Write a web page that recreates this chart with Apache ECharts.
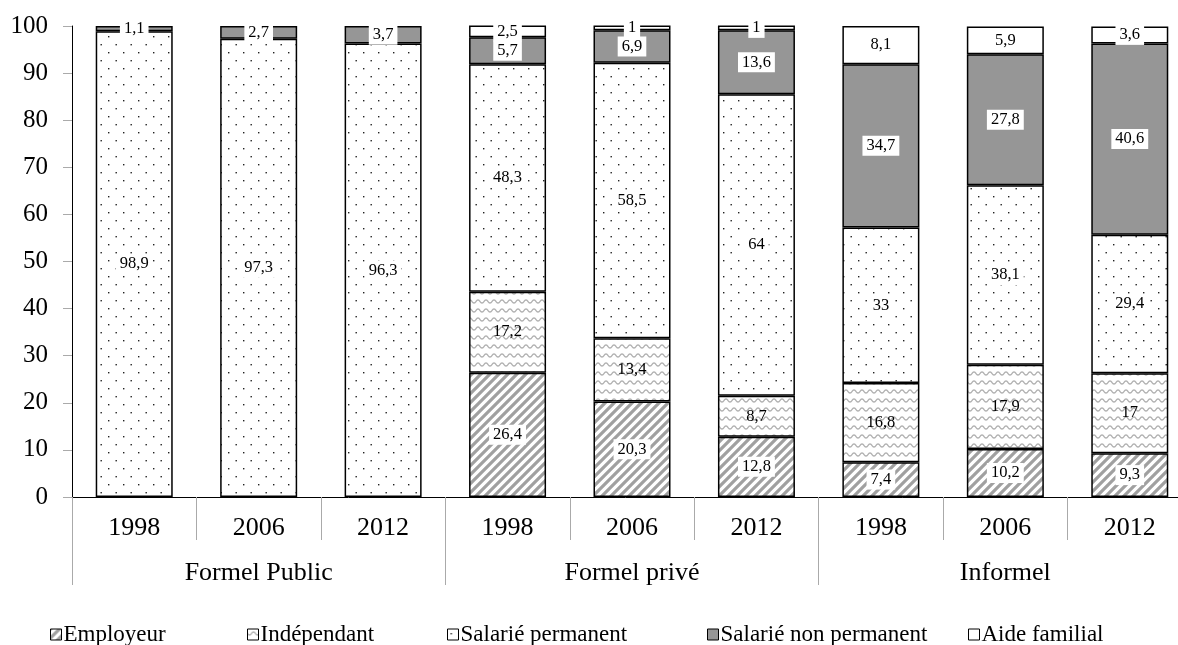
<!DOCTYPE html>
<html>
<head>
<meta charset="utf-8">
<script src="https://cdn.jsdelivr.net/npm/echarts@6/dist/echarts.min.js"></script>
<style>html,body{margin:0;padding:0;background:#fff;}#c{width:1178px;height:645px;}</style>
</head>
<body>
<div id="c"></div>
<script>
const years = ['1998','2006','2012','1998','2006','2012','1998','2006','2012'];
const groups = ['Formel Public','Formel privé','Informel'];
const seriesNames = ['Employeur','Indépendant','Salarié permanent','Salarié non permanent','Aide familial'];
const employeur = [null,null,null,26.4,20.3,12.8,7.4,10.2,9.3];
const independant = [null,null,null,17.2,13.4,8.7,16.8,17.9,17];
const salariePermanent = [98.9,97.3,96.3,48.3,58.5,64,33,38.1,29.4];
const salarieNonPermanent = [1.1,2.7,3.7,5.7,6.9,13.6,34.7,27.8,40.6];
const aideFamilial = [null,null,null,2.5,1,1,8.1,5.9,3.6];
const yTicks = [0,10,20,30,40,50,60,70,80,90,100];

function tile(w,h,draw){const c=document.createElement('canvas');c.width=w;c.height=h;const g=c.getContext('2d');g.fillStyle='#fff';g.fillRect(0,0,w,h);draw(g);return {image:c,repeat:'repeat'};}
const stripes = tile(9,9,g=>{g.strokeStyle='#a0a0a0';g.lineWidth=3.2;g.beginPath();
  g.moveTo(-4.5,4.5);g.lineTo(4.5,-4.5);g.moveTo(0,9);g.lineTo(9,0);g.moveTo(4.5,13.5);g.lineTo(13.5,4.5);g.stroke();});
const waves = tile(8,9,g=>{g.strokeStyle='#b0b0b0';g.lineWidth=1.3;g.beginPath();
  for(let x=-1;x<=9;x+=0.5){const y=4.5+1.6*Math.sin(2*Math.PI*x/8);if(x===-1)g.moveTo(x,y);else g.lineTo(x,y);}g.stroke();});
const dots = tile(15,16,g=>{g.fillStyle='#222';g.fillRect(3,4,1.4,1.4);g.fillRect(10.5,12,1.4,1.4);});
const fills = [stripes, waves, dots, '#969696', '#ffffff'];
const datas = [employeur, independant, salariePermanent, salarieNonPermanent, aideFamilial];
const labelBg = [true,false,true,true,true];
const legendLeft = [50,247,447,707,968];
const FONT = 'Liberation Serif';

const series = seriesNames.map((n,i)=>({
  name:n, type:'bar', stack:'s', barWidth:77, data:datas[i],
  itemStyle:{color:fills[i], borderColor:'#000', borderWidth:1.5},
  label:{show:true, position:'inside', fontFamily:FONT, fontSize:16.5, color:'#000',
    backgroundColor: labelBg[i] ? '#fff' : 'transparent', padding:[2,4,1,4],
    formatter:p=> (p.value==null? '' : String(p.value).replace('.',','))},
  emphasis:{disabled:true}
}));

const legends = seriesNames.map((n,i)=>({
  left:legendLeft[i], top:623, padding:0, itemWidth:11, itemHeight:11, icon:'rect',
  textStyle:{fontFamily:FONT, fontSize:23, color:'#000', padding:[0,0,0,-3]},
  itemStyle:{borderColor:'#000', borderWidth:1}, data:[n], selectedMode:false
}));

const chart = echarts.init(document.getElementById('c'), null, {renderer:'canvas'});
chart.setOption({
  animation:false,
  backgroundColor:'#fff',
  grid:{left:72, top:26, width:1120, height:471, containLabel:false, outerBoundsMode:'none'},
  legend:legends,
  xAxis:[
    {type:'category', data:years, position:'bottom',
     axisLine:{show:true, lineStyle:{color:'#000', width:1}},
     axisTick:{show:true, length:43, interval:0, lineStyle:{color:'#aaa', width:1}},
     axisLabel:{fontFamily:FONT, fontSize:26, color:'#000', margin:18, interval:0}},
    {type:'category', data:groups, position:'bottom',
     axisLine:{show:false},
     axisTick:{show:true, length:88, interval:0, lineStyle:{color:'#aaa', width:1}},
     axisLabel:{fontFamily:FONT, fontSize:26, color:'#000', margin:63, interval:0}}
  ],
  yAxis:{type:'value', min:yTicks[0], max:yTicks[yTicks.length-1], interval:10,
    axisLine:{show:true, lineStyle:{color:'#000', width:1}},
    axisTick:{show:true, length:9, lineStyle:{color:'#aaa'}},
    splitLine:{show:false},
    axisLabel:{fontFamily:FONT, fontSize:25, color:'#000', margin:24}},
  series:series
});
</script>
</body>
</html>
